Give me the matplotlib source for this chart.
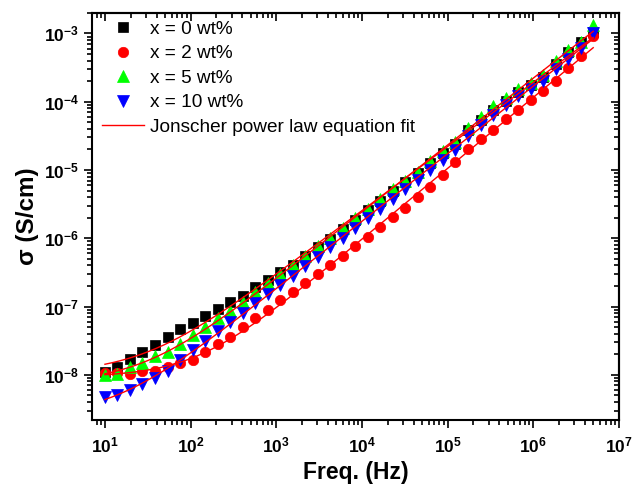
import numpy as np
import matplotlib
matplotlib.use("Agg")
import matplotlib.pyplot as plt
from matplotlib.ticker import LogLocator, FixedLocator, FixedFormatter, NullFormatter

plt.rcParams['font.family'] = ['Liberation Sans', 'DejaVu Sans']
plt.rcParams['mathtext.fontset'] = 'custom'
plt.rcParams['mathtext.rm'] = 'Liberation Sans'
plt.rcParams['mathtext.bf'] = 'Liberation Sans:bold'

# ---------------- data ----------------
freq = [10, 14.0, 19.6, 27.4, 38.4, 53.8, 75.3, 105.4, 147.6, 206.6,
        289.2, 405, 567, 794, 1111, 1556, 2178, 3050, 4270, 5978,
        8370, 11720, 16400, 22960, 32150, 45010, 63010, 88220, 1.235e5, 1.729e5,
        2.421e5, 3.389e5, 4.745e5, 6.643e5, 9.30e5, 1.302e6, 1.823e6, 2.552e6, 3.573e6, 5.0e6]

# log10(sigma)
log_sigma_x0 = [-7.96, -7.88, -7.77, -7.66, -7.57, -7.45, -7.33, -7.24, -7.14, -7.04,
                -6.94, -6.84, -6.72, -6.61, -6.50, -6.39, -6.26, -6.13, -6.01, -5.87,
                -5.73, -5.59, -5.45, -5.31, -5.18, -5.05, -4.90, -4.75, -4.62, -4.42,
                -4.27, -4.12, -3.99, -3.86, -3.76, -3.64, -3.45, -3.27, -3.12, -2.98]
log_sigma_x2 = [-7.97, -7.98, -7.99, -7.95, -7.94, -7.88, -7.83, -7.78, -7.66, -7.55,
                -7.44, -7.30, -7.17, -7.05, -6.91, -6.78, -6.66, -6.52, -6.39, -6.26,
                -6.12, -5.98, -5.84, -5.69, -5.55, -5.40, -5.25, -5.07, -4.89, -4.70,
                -4.54, -4.41, -4.26, -4.12, -3.98, -3.85, -3.70, -3.50, -3.33, -3.04]
log_sigma_x5 = [-8.00, -7.99, -7.88, -7.82, -7.73, -7.66, -7.55, -7.42, -7.30, -7.17,
                -7.06, -6.93, -6.78, -6.65, -6.52, -6.39, -6.26, -6.12, -5.99, -5.85,
                -5.71, -5.57, -5.43, -5.28, -5.16, -5.03, -4.87, -4.72, -4.59, -4.38,
                -4.22, -4.07, -3.95, -3.81, -3.72, -3.61, -3.40, -3.25, -3.12, -2.88]
log_sigma_x10 = [-8.33, -8.30, -8.22, -8.14, -8.05, -7.94, -7.78, -7.63, -7.51, -7.36,
                 -7.22, -7.09, -6.95, -6.82, -6.68, -6.55, -6.41, -6.27, -6.13, -5.99,
                 -5.85, -5.71, -5.57, -5.43, -5.28, -5.15, -5.00, -4.85, -4.71, -4.50,
                 -4.34, -4.20, -4.05, -3.92, -3.82, -3.70, -3.52, -3.38, -3.22, -3.00]

labels = ['x = 0 wt%', 'x = 2 wt%', 'x = 5 wt%', 'x = 10 wt%']
fit_label = 'Jonscher power law equation fit'

x_ticks = [1e1, 1e2, 1e3, 1e4, 1e5, 1e6, 1e7]
x_tick_labels = [r'$\mathbf{10^{1}}$', r'$\mathbf{10^{2}}$', r'$\mathbf{10^{3}}$',
                 r'$\mathbf{10^{4}}$', r'$\mathbf{10^{5}}$', r'$\mathbf{10^{6}}$',
                 r'$\mathbf{10^{7}}$']
y_ticks = [1e-8, 1e-7, 1e-6, 1e-5, 1e-4, 1e-3]
y_tick_labels = [r'$\mathbf{10^{-8}}$', r'$\mathbf{10^{-7}}$', r'$\mathbf{10^{-6}}$',
                 r'$\mathbf{10^{-5}}$', r'$\mathbf{10^{-4}}$', r'$\mathbf{10^{-3}}$']

f = np.array(freq)
series = [np.power(10.0, np.array(v)) for v in
          (log_sigma_x0, log_sigma_x2, log_sigma_x5, log_sigma_x10)]


def jonscher_fit(fr, s):
    """sigma = sigma_dc + A f^n, least squares in log space (grid search)."""
    lf = np.log10(fr)
    ls = np.log10(s)
    best = (np.inf, None)
    for n in np.arange(0.5, 1.51, 0.01):
        fn = fr ** n
        lA0 = ls[-1] - n * lf[-1]
        lA = lA0 + np.arange(-1.0, 0.5, 0.01)
        A = 10 ** lA
        for ldc in np.arange(ls[:3].min() - 1.5, ls[:3].min() + 0.2, 0.02):
            model = np.log10(10 ** ldc + A[:, None] * fn[None, :])
            err = ((model - ls[None, :]) ** 2).sum(axis=1)
            k = np.argmin(err)
            if err[k] < best[0]:
                best = (err[k], (10 ** ldc, A[k], n))
    return best[1]


# ---------------- plot ----------------
fig = plt.figure(figsize=(6.38, 4.93), dpi=100)
ax = fig.add_axes([0.1442, 0.148, 0.8260, 0.826])

styles = [dict(marker='s', color='#000000', ms=6.5),
          dict(marker='o', color='#ff0000', ms=7.5),
          dict(marker='^', color='#00ff00', ms=8),
          dict(marker='v', color='#0000ff', ms=8)]

handles = []
for s, st, lab in zip(series, styles, labels):
    h, = ax.plot(f, s, linestyle='none', marker=st['marker'], markersize=st['ms'],
                 markerfacecolor=st['color'], markeredgecolor=st['color'],
                 markeredgewidth=0.5, label=lab, zorder=3)
    handles.append(h)

fd = np.logspace(1, np.log10(5e6), 400)
for s in series:
    sdc, A, n = jonscher_fit(f, s)
    hl, = ax.plot(fd, sdc + A * fd ** n, color='#ff0000', lw=1.0, zorder=4,
                  label=fit_label)
handles.append(hl)

ax.set_xscale('log')
ax.set_yscale('log')
ax.set_xlim(7.06, 1e7)
ax.set_ylim(2.18e-9, 2.0e-3)

ax.xaxis.set_major_locator(FixedLocator(x_ticks))
ax.xaxis.set_major_formatter(FixedFormatter(x_tick_labels))
ax.yaxis.set_major_locator(FixedLocator(y_ticks))
ax.yaxis.set_major_formatter(FixedFormatter(y_tick_labels))
ax.xaxis.set_minor_locator(LogLocator(base=10, subs=np.arange(2, 10), numticks=20))
ax.yaxis.set_minor_locator(LogLocator(base=10, subs=np.arange(2, 10), numticks=20))
ax.xaxis.set_minor_formatter(NullFormatter())
ax.yaxis.set_minor_formatter(NullFormatter())

ax.tick_params(which='both', direction='out', width=1.2, labelsize=12.5,
               top=False, right=False)
ax.tick_params(which='major', length=6)
ax.tick_params(which='minor', length=3.5)
ax.tick_params(axis='x', pad=5)

for sp in ax.spines.values():
    sp.set_linewidth(1.5)

# inward ticks on top and right
sx = ax.secondary_xaxis('top')
sx.set_xscale('log')
sx.xaxis.set_major_locator(FixedLocator(x_ticks))
sx.xaxis.set_minor_locator(LogLocator(base=10, subs=np.arange(2, 10), numticks=20))
sx.tick_params(which='both', direction='in', width=1.2, labeltop=False)
sx.tick_params(which='major', length=6)
sx.tick_params(which='minor', length=3.5)
sx.spines['top'].set_linewidth(1.5)
sy = ax.secondary_yaxis('right')
sy.yaxis.set_major_locator(FixedLocator(y_ticks))
sy.yaxis.set_minor_locator(LogLocator(base=10, subs=np.arange(2, 10), numticks=20))
sy.tick_params(which='both', direction='in', width=1.2, labelright=False)
sy.tick_params(which='major', length=6)
sy.tick_params(which='minor', length=3.5)
sy.spines['right'].set_linewidth(1.5)

ax.set_xlabel('Freq. (Hz)', fontsize=16.5, fontweight='bold', labelpad=4)
ax.set_ylabel('σ (S/cm)', fontsize=17.5, fontweight='bold', labelpad=3)

leg = ax.legend(handles=handles, loc='upper left', frameon=False, fontsize=13.7,
                bbox_to_anchor=(0.005, 1.0), handlelength=2.2, handletextpad=0.3,
                labelspacing=0.38, borderaxespad=0.0)

fig.savefig('out.png', dpi=100)
